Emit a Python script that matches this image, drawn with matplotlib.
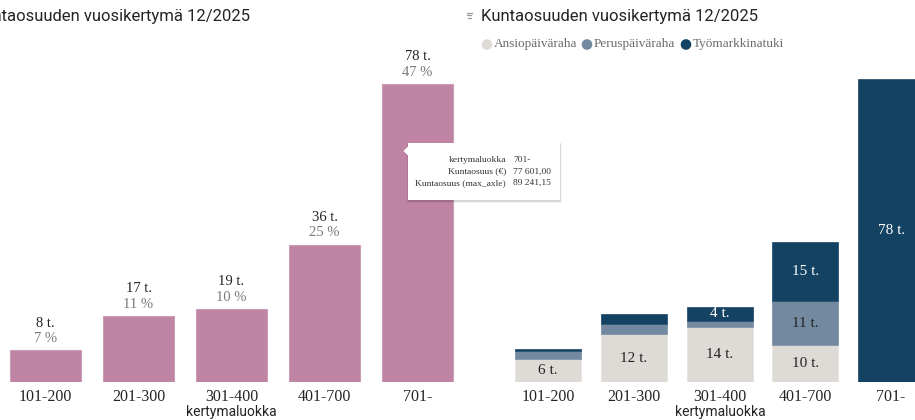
import matplotlib
matplotlib.use('Agg')
import matplotlib.pyplot as plt
from matplotlib.patches import Polygon, Rectangle, Circle

# ---------------- data ----------------
categories = ['101-200', '201-300', '301-400', '401-700', '701-']
kuntaosuus = [8300, 17200, 19000, 35700, 77601]        # € per class (left panel)
osuus_pct = [7, 11, 10, 25, 47]                        # share labels (%)
ansio = [5800, 12300, 14000, 9500, 0]                  # Ansiopäiväraha
perus = [2200, 2500, 1700, 11200, 0]                   # Peruspäiväraha
tyomark = [500, 2600, 3600, 15300, 77601]              # Työmarkkinatuki
series_names = ['Ansiopäiväraha', 'Peruspäiväraha', 'Työmarkkinatuki']
left_axis_max = 89241.15

# ---------------- style ----------------
W, H = 915, 420
PINK = '#BF84A4'
C_ANSIO = '#DEDAD6'
C_PERUS = '#73899F'
C_TYO = '#134263'
SERIF = ['Liberation Serif', 'DejaVu Serif']
SANS = ['Roboto', 'DejaVu Sans']

fig = plt.figure(figsize=(W / 100, H / 100), dpi=100)
fig.patch.set_facecolor('white')


def px_axes(x0, x1, ytop, ybot):
    return fig.add_axes([x0 / W, (H - ybot) / H, (x1 - x0) / W, (ybot - ytop) / H])


def style_axis(ax):
    for s in ax.spines.values():
        s.set_visible(False)
    ax.set_yticks([])
    ax.set_xticks(range(len(categories)))
    ax.set_xticklabels(categories, fontfamily=SERIF, fontsize=11.5, color='#252423')
    ax.tick_params(axis='x', length=0, pad=5)
    ax.set_xlabel('kertymaluokka', fontfamily=SANS, fontsize=10, color='#252423', labelpad=0)
    ax.set_facecolor('none')


# ---------------- left panel ----------------
axL = px_axes(-1, 464, 382 - left_axis_max / 1000 * 3.84, 382)
x = range(len(categories))
axL.bar(x, kuntaosuus, width=0.765, color=PINK, edgecolor='#CC9DB6', linewidth=0.8)
axL.set_xlim(-0.5, 4.5)
axL.set_ylim(0, left_axis_max)
style_axis(axL)
for i, v in enumerate(kuntaosuus):
    axL.annotate(f'{round(v / 1000)} t.', (i, v), xytext=(0, 19.5), textcoords='offset points',
                 ha='center', va='center', fontfamily=SERIF, fontsize=10.5, color='#252423')
    axL.annotate(f'{osuus_pct[i]} %', (i, v), xytext=(0, 8.6), textcoords='offset points',
                 ha='center', va='center', fontfamily=SERIF, fontsize=10.5, color='#7a7a7a')

# ---------------- right panel ----------------
axR = px_axes(500, 940, 382 - 342, 382)
bottom2 = [a + p for a, p in zip(ansio, perus)]
axR.bar(x, ansio, width=0.77, color=C_ANSIO, edgecolor='#E8E5E2', linewidth=0.6)
axR.bar(x, perus, width=0.77, bottom=ansio, color=C_PERUS, edgecolor='#8196AA', linewidth=0.6)
axR.bar(x, tyomark, width=0.77, bottom=bottom2, color=C_TYO, edgecolor='#2A5372', linewidth=0.6)
axR.set_xlim(-0.56, 4.57)
axR.set_ylim(0, 342 / 3.9 * 1000)
style_axis(axR)
for vals, bots, col in [(ansio, [0] * 5, '#252423'), (perus, ansio, '#252423'), (tyomark, bottom2, 'white')]:
    for i, (v, b) in enumerate(zip(vals, bots)):
        if v >= 3000:
            axR.text(i, b + v / 2, f'{round(v / 1000)} t.', ha='center', va='center',
                     fontfamily=SERIF, fontsize=11, color=col)

# ---------------- overlay (titles, legend, tooltip) ----------------
ov = fig.add_axes([0, 0, 1, 1], zorder=10)
ov.set_xlim(0, W)
ov.set_ylim(H, 0)
ov.axis('off')
ov.patch.set_alpha(0)

title = 'Kuntaosuuden vuosikertymä 12/2025'
ov.text(-27, 17, title, ha='left', va='center', fontfamily=SANS, fontsize=12, color='#252423')
ov.text(481, 17, title, ha='left', va='center', fontfamily=SANS, fontsize=12, color='#252423')
# filter icon
for k, (yy, ln) in enumerate([(12.7, 5.5), (15.2, 4.0), (17.7, 2.5)]):
    ov.plot([466.5 + (5.5 - ln) / 2, 466.5 + (5.5 - ln) / 2 + ln], [yy, yy], color='#9a9a9a', lw=0.9)

# legend
leg_x = [487, 587, 686]
for xx, name, col in zip(leg_x, series_names, [C_ANSIO, C_PERUS, C_TYO]):
    ov.add_patch(Circle((xx, 44.5), 4.6, color=col))
    ov.text(xx + 6.5, 44.5, name, ha='left', va='center', fontfamily=SERIF, fontsize=9.5, color='#6b6b6b')

# tooltip
for d, a in [(3, 0.04), (2, 0.05), (1, 0.07)]:
    ov.add_patch(Rectangle((408 - d / 2, 143 - d / 2 + 1), 152 + d, 57 + d, color='black', alpha=a, lw=0))
ov.add_patch(Rectangle((408, 143), 152, 57, facecolor='white', edgecolor='none'))
ov.add_patch(Polygon([(409, 145.5), (403.5, 151), (409, 156.5)], closed=True, facecolor='white', edgecolor='none'))
tip_rows = [('kertymaluokka', categories[-1]),
            ('Kuntaosuus (€)', f'{kuntaosuus[-1]:,.2f}'.replace(',', ' ').replace('.', ',')),
            ('Kuntaosuus (max_axle)', f'{left_axis_max:,.2f}'.replace(',', ' ').replace('.', ','))]
for j, (k, v) in enumerate(tip_rows):
    yy = 160 + j * 11.5
    ov.text(506, yy, k, ha='right', va='center', fontfamily=SERIF, fontsize=6.8, color='#333333')
    ov.text(513, yy, v, ha='left', va='center', fontfamily=SERIF, fontsize=6.8, color='#333333')

fig.savefig('out.png', dpi=100)
